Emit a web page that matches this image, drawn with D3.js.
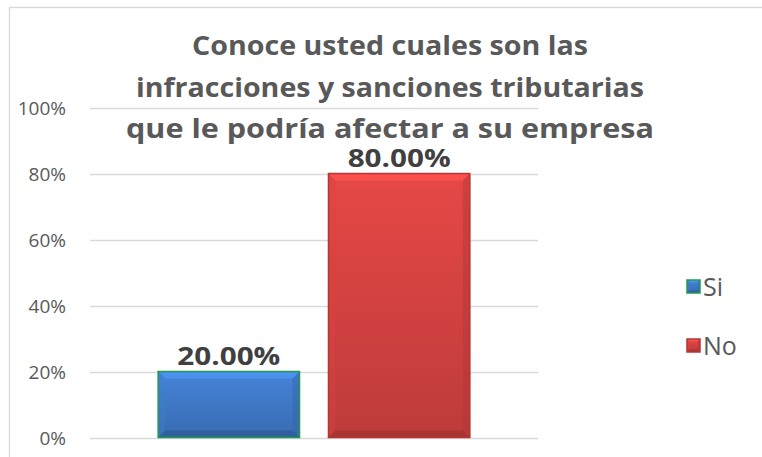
<!DOCTYPE html>
<html>
<head>
<meta charset="utf-8">
<script src="https://cdn.jsdelivr.net/npm/d3@7"></script>
<style>
  body { margin: 0; background: #fff; }
  text { font-family: "Open Sans", "Liberation Sans", sans-serif; }
</style>
</head>
<body>
<svg id="chart" width="762" height="457"></svg>
<script>
// data
var titleLines = ["Conoce usted cuales son las", "infracciones y sanciones tributarias", "que le podría afectar a su empresa"];
var seriesNames = ["Si", "No"];
var seriesValues = [0.20, 0.80];
var seriesColors = ["#3f78c6", "#d24240"];
var seriesStroke = ["#1f9a4f", "#b53634"];
var yTicks = [0, 0.2, 0.4, 0.6, 0.8, 1.0];

var svg = d3.select("#chart");
var defs = svg.append("defs");

// chart frame
svg.append("rect")
    .attr("x", 9.5).attr("y", 7.5)
    .attr("width", 800).attr("height", 500)
    .attr("fill", "none")
    .attr("stroke", "#d9d9d9")
    .attr("stroke-width", 1.3);

var plot = { left: 90, right: 538, top: 107.5, bottom: 437.5 };

var y = d3.scaleLinear()
    .domain([0, 1])
    .range([plot.bottom, plot.top]);

var x = d3.scaleBand()
    .domain(seriesNames)
    .range([plot.left, plot.right])
    .paddingInner(0.17)
    .paddingOuter(0.40);

// gridlines
svg.append("g")
    .selectAll("line")
    .data(yTicks)
    .enter()
    .append("line")
    .attr("x1", plot.left)
    .attr("x2", plot.right)
    .attr("y1", d => Math.round(y(d)) + 0.5)
    .attr("y2", d => Math.round(y(d)) + 0.5)
    .attr("stroke", "#d9d9d9")
    .attr("stroke-width", 1.3);

// y labels
svg.append("g")
    .selectAll("text")
    .data(yTicks)
    .enter()
    .append("text")
    .attr("x", 66)
    .attr("y", d => y(d) + 7)
    .attr("text-anchor", "end")
    .attr("font-size", 19)
    .attr("fill", "#595959")
    .text(d => d3.format(".0%")(d));

// gradients
function shade(c, k) {
    var col = d3.color(c);
    return k > 0 ? col.brighter(k).formatHex() : col.darker(-k).formatHex();
}
seriesColors.forEach(function (c, i) {
    var g = defs.append("linearGradient")
        .attr("id", "grad" + i)
        .attr("x1", 0).attr("y1", 0).attr("x2", 0).attr("y2", 1);
    g.append("stop").attr("offset", "0%").attr("stop-color", shade(c, 0.25));
    g.append("stop").attr("offset", "100%").attr("stop-color", shade(c, -0.3));
});

function bevelBar(g, x0, y0, w, h, i, b) {
    var x1 = x0 + w, y1 = y0 + h;
    var c = seriesColors[i];
    g.append("rect")
        .attr("x", x0).attr("y", y0).attr("width", w).attr("height", h)
        .attr("fill", "url(#grad" + i + ")");
    // top bevel
    g.append("polygon")
        .attr("points", [[x0, y0], [x1, y0], [x1 - b, y0 + b], [x0 + b, y0 + b]].join(" "))
        .attr("fill", shade(c, 0.6)).attr("opacity", 0.8);
    // left bevel
    g.append("polygon")
        .attr("points", [[x0, y0], [x0 + b, y0 + b], [x0 + b, y1 - b], [x0, y1]].join(" "))
        .attr("fill", shade(c, 0.1)).attr("opacity", 0.4);
    // right bevel
    g.append("polygon")
        .attr("points", [[x1, y0], [x1 - b, y0 + b], [x1 - b, y1 - b], [x1, y1]].join(" "))
        .attr("fill", shade(c, -0.5)).attr("opacity", 0.45);
    // bottom bevel
    g.append("polygon")
        .attr("points", [[x0, y1], [x0 + b, y1 - b], [x1 - b, y1 - b], [x1, y1]].join(" "))
        .attr("fill", shade(c, -0.8)).attr("opacity", 0.7);
    g.append("rect")
        .attr("x", x0).attr("y", y0).attr("width", w).attr("height", h)
        .attr("fill", "none")
        .attr("stroke", seriesStroke[i])
        .attr("stroke-width", 1.5);
}

// bars
var bars = svg.append("g");
seriesNames.forEach(function (name, i) {
    var x0 = x(name), y0 = y(seriesValues[i]);
    bevelBar(bars.append("g"), x0, y0, x.bandwidth(), y(0) - y0, i, 7);
});

// title
svg.append("g")
    .selectAll("text")
    .data(titleLines)
    .enter()
    .append("text")
    .attr("x", 390)
    .attr("y", (d, i) => 55 + i * 41.5)
    .attr("text-anchor", "middle")
    .attr("font-size", 27.5)
    .attr("font-weight", "bold")
    .attr("fill", "#595959")
    .attr("textLength", (d, i) => [396, 508, 528][i])
    .attr("lengthAdjust", "spacingAndGlyphs")
    .text(d => d);

// data labels
svg.append("g")
    .selectAll("text")
    .data(seriesValues)
    .enter()
    .append("text")
    .attr("x", (d, i) => x(seriesNames[i]) + x.bandwidth() / 2)
    .attr("y", d => y(d) - 7)
    .attr("text-anchor", "middle")
    .attr("font-size", 25)
    .attr("font-weight", "bold")
    .attr("fill", "#404040")
    .attr("textLength", 103)
    .attr("lengthAdjust", "spacingAndGlyphs")
    .text(d => d3.format(".2%")(d));

// legend
var legend = svg.append("g");
seriesNames.forEach(function (name, i) {
    var ly = 287 + i * 59;
    bevelBar(legend.append("g"), 687, ly - 7, 13, 13, i, 2.5);
    legend.append("text")
        .attr("x", 703)
        .attr("y", ly + 9)
        .attr("font-size", 25)
        .attr("fill", "#595959")
        .text(name);
});
</script>
</body>
</html>
